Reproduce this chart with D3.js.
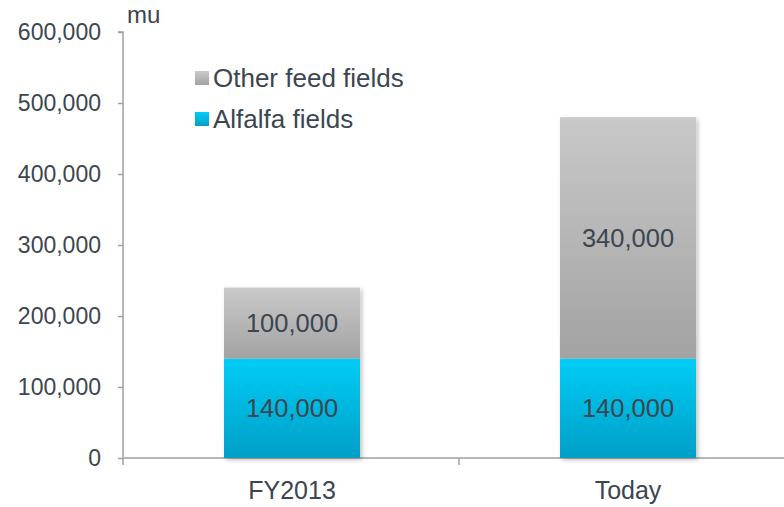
<!DOCTYPE html>
<html>
<head>
<meta charset="utf-8">
<script src="https://cdn.jsdelivr.net/npm/d3@7"></script>
<style>
  body { margin: 0; background: #fff; }
  text { font-family: "Liberation Sans", Arial, sans-serif; fill: #3b4650; }
</style>
</head>
<body>
<div id="chart"></div>
<script>
// Data
const categories = ["FY2013", "Today"];
const alfalfa = [140000, 140000];
const otherFeed = [100000, 340000];
const seriesNames = ["Other feed fields", "Alfalfa fields"];
const yTicks = [0, 100000, 200000, 300000, 400000, 500000, 600000];

const W = 784, H = 507;
const plotLeft = 123, plotBottom = 458, plotTop = 32;

const svg = d3.select("#chart").append("svg")
  .attr("width", W).attr("height", H);

const defs = svg.append("defs");

// gradients for the bars
const gGray = defs.append("linearGradient").attr("id", "gGray")
  .attr("x1", 0).attr("y1", 0).attr("x2", 0).attr("y2", 1);
gGray.append("stop").attr("offset", "0%").attr("stop-color", "#c9c9c9");
gGray.append("stop").attr("offset", "100%").attr("stop-color", "#a2a2a2");

const gBlue = defs.append("linearGradient").attr("id", "gBlue")
  .attr("x1", 0).attr("y1", 0).attr("x2", 0).attr("y2", 1);
gBlue.append("stop").attr("offset", "0%").attr("stop-color", "#00cdf6");
gBlue.append("stop").attr("offset", "100%").attr("stop-color", "#009fc6");

// soft shadow
const shadow = defs.append("filter").attr("id", "shadow")
  .attr("x", "-10%").attr("y", "-10%").attr("width", "130%").attr("height", "130%");
shadow.append("feDropShadow").attr("dx", 2).attr("dy", 2)
  .attr("stdDeviation", 2).attr("flood-color", "#000").attr("flood-opacity", 0.25);

// scales
const x = d3.scaleBand().domain(categories).range([plotLeft, plotLeft + 336 * 2]).padding(0);
const y = d3.scaleLinear().domain([0, 600000]).range([plotBottom, plotTop]);
const barW = x.bandwidth() * 0.405;

// y axis
const yAxis = svg.append("g")
  .attr("transform", `translate(${plotLeft},0)`)
  .call(d3.axisLeft(y).tickValues(yTicks).tickFormat(d3.format(",")).tickSize(5).tickPadding(17));
yAxis.select(".domain").attr("stroke", "#a0a0a0").attr("stroke-width", 1.5)
  .attr("d", `M-5,${plotTop}H0V${plotBottom + 7}`);
yAxis.selectAll(".tick line").attr("stroke", "#a0a0a0").attr("stroke-width", 1.5);
yAxis.selectAll(".tick text").style("font-size", "23px").attr("fill", "#3b4650");

// unit label
svg.append("text").attr("x", 127).attr("y", 23)
  .style("font-size", "24px").text("mu");

// x axis line and separators
svg.append("line")
  .attr("x1", plotLeft).attr("x2", W).attr("y1", plotBottom).attr("y2", plotBottom)
  .attr("stroke", "#a0a0a0").attr("stroke-width", 1.5);
svg.append("line")
  .attr("x1", x("Today")).attr("x2", x("Today")).attr("y1", plotBottom).attr("y2", plotBottom + 7)
  .attr("stroke", "#a0a0a0").attr("stroke-width", 1.5);

// category labels
svg.selectAll(".cat").data(categories).enter().append("text")
  .attr("x", d => x(d) + x.bandwidth() / 2 + 1)
  .attr("y", 499)
  .attr("text-anchor", "middle")
  .style("font-size", "25px")
  .text(d => d);

// bars
const fmt = d3.format(",");
categories.forEach((c, i) => {
  const bx = x(c) + x.bandwidth() / 2 - barW / 2 + 1;
  const g = svg.append("g").attr("filter", "url(#shadow)");
  // alfalfa
  g.append("rect")
    .attr("x", bx).attr("y", y(alfalfa[i]))
    .attr("width", barW).attr("height", y(0) - y(alfalfa[i]))
    .attr("fill", "url(#gBlue)");
  // other feed
  g.append("rect")
    .attr("x", bx).attr("y", y(alfalfa[i] + otherFeed[i]))
    .attr("width", barW).attr("height", y(alfalfa[i]) - y(alfalfa[i] + otherFeed[i]))
    .attr("fill", "url(#gGray)");

  svg.append("text")
    .attr("x", bx + barW / 2).attr("y", y(alfalfa[i] / 2))
    .attr("dy", "0.35em").attr("text-anchor", "middle")
    .style("font-size", "25.5px").text(fmt(alfalfa[i]));
  svg.append("text")
    .attr("x", bx + barW / 2).attr("y", y(alfalfa[i] + otherFeed[i] / 2))
    .attr("dy", "0.35em").attr("text-anchor", "middle")
    .style("font-size", "25.5px").text(fmt(otherFeed[i]));
});

// legend
const legend = svg.append("g").attr("transform", "translate(195,71)");
const legendFill = ["url(#gGray)", "url(#gBlue)"];
seriesNames.forEach((s, i) => {
  legend.append("rect")
    .attr("x", 0).attr("y", i * 41)
    .attr("width", 14).attr("height", 14)
    .attr("fill", legendFill[i]);
  legend.append("text")
    .attr("x", 18).attr("y", i * 41 + 16)
    .style("font-size", "26px").text(s);
});
</script>
</body>
</html>
